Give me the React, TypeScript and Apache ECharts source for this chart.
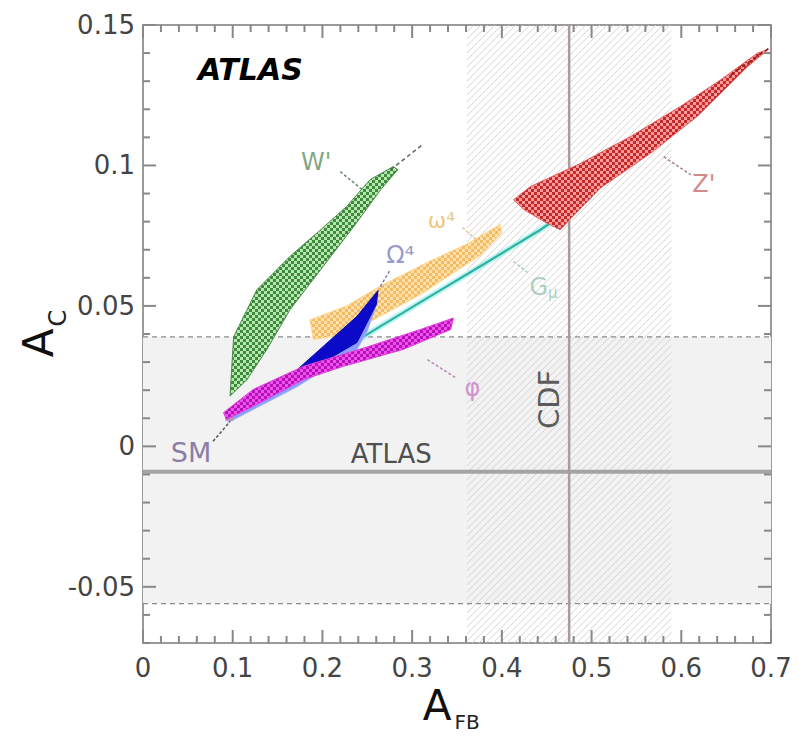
import React, { useEffect, useRef } from "react";
import * as echarts from "echarts";

// ---- axes ----
const X_MIN = 0;
const X_MAX = 0.7;
const X_STEP = 0.1;
const Y_MIN = -0.07;
const Y_MAX = 0.15;
const Y_MINOR_STEP = 0.01;
const X_MAJOR_TICKS = [0, 0.1, 0.2, 0.3, 0.4, 0.5, 0.6, 0.7];
const X_MINOR_TICKS = [
  0.02, 0.04, 0.06, 0.08, 0.12, 0.14, 0.16, 0.18, 0.22, 0.24, 0.26, 0.28, 0.32, 0.34, 0.36, 0.38,
  0.42, 0.44, 0.46, 0.48, 0.52, 0.54, 0.56, 0.58, 0.62, 0.64, 0.66, 0.68,
];
const Y_MAJOR_TICKS = [-0.05, 0, 0.05, 0.1, 0.15];
const Y_MINOR_TICKS = [
  -0.07, -0.06, -0.04, -0.03, -0.02, -0.01, 0.01, 0.02, 0.03, 0.04, 0.06, 0.07, 0.08, 0.09,
  0.11, 0.12, 0.13, 0.14,
];

// ---- measurements ----
const ATLAS_AC = -0.009;
const ATLAS_BAND = [-0.056, 0.039];
const CDF_AFB = 0.475;
const CDF_BAND = [0.361, 0.589];

// ---- model regions (A_FB, A_C) ----
const W_PRIME = [
  [0.097, 0.0179], [0.101, 0.039], [0.127, 0.0558], [0.164, 0.0677], [0.198, 0.0771],
  [0.227, 0.0854], [0.253, 0.0949], [0.279, 0.0996], [0.284, 0.0985], [0.265, 0.0914],
  [0.235, 0.0783], [0.198, 0.0629], [0.164, 0.0487], [0.138, 0.0345], [0.116, 0.0238],
];
const W_PRIME_TAIL = [[0.276, 0.0985], [0.312, 0.1075]];

const Z_PRIME = [
  [0.413, 0.0878], [0.432, 0.0925], [0.488, 0.1008], [0.5435, 0.1103], [0.599, 0.121],
  [0.644, 0.1305], [0.685, 0.14], [0.697, 0.1413], [0.674, 0.1352], [0.618, 0.1175],
  [0.566, 0.1044], [0.51, 0.092], [0.475, 0.0805], [0.465, 0.0771], [0.45, 0.0795],
  [0.4245, 0.0843],
];
const Z_PRIME_TAIL = [[0.655, 0.1322], [0.698, 0.1418]];

const OMEGA4_SMALL = [
  [0.186, 0.045], [0.227, 0.05], [0.264, 0.057], [0.32, 0.066], [0.361, 0.072],
  [0.398, 0.079], [0.4, 0.076], [0.376, 0.068], [0.309, 0.054], [0.257, 0.045],
  [0.227, 0.04], [0.19, 0.038],
];

const OMEGA4_CAP_LIGHT = [
  [0.095, 0.0098], [0.1715, 0.0258], [0.25, 0.047], [0.262, 0.052],
  [0.25, 0.041], [0.2385, 0.0345], [0.1715, 0.0212], [0.095, 0.0085],
];
const OMEGA4_CAP = [
  [0.15, 0.0215], [0.1715, 0.0272], [0.2385, 0.0463], [0.262, 0.0555],
  [0.26, 0.0505], [0.2385, 0.037], [0.1715, 0.0245], [0.15, 0.0202],
];

const PHI = [
  [0.0897, 0.012], [0.123, 0.0203], [0.179, 0.0285], [0.253, 0.0357], [0.309, 0.0416],
  [0.346, 0.0457], [0.343, 0.0416], [0.29, 0.0345], [0.2235, 0.0285], [0.179, 0.0238],
  [0.123, 0.0143], [0.093, 0.0096],
];

const G_MU = [
  [0.1, 0.011], [0.15, 0.02], [0.2, 0.03], [0.2645, 0.0427], [0.32, 0.0534],
  [0.376, 0.0641], [0.443, 0.0771], [0.47, 0.083], [0.5, 0.089],
];

const SM_POINT = [0.096, 0.0105];

// ---- annotations ----
const ARROWS = [
  { pts: [[0.2199, 0.0978], [0.2444, 0.0914]], color: "#6a8a6a" },
  { pts: [[0.5804, 0.1031], [0.6105, 0.0967]], color: "#b08080" },
  { pts: [[0.356, 0.0779], [0.3739, 0.0729]], color: "#dcc898" },
  { pts: [[0.2645, 0.0569], [0.2757, 0.0629]], color: "#7d7dbd" },
  { pts: [[0.413, 0.0658], [0.4286, 0.0619]], color: "#a8ccc0" },
  { pts: [[0.317, 0.0309], [0.3482, 0.0245]], color: "#b888b8" },
  { pts: [[0.0781, 0.0018], [0.0971, 0.0089]], color: "#555555" },
];

const LABELS = [
  { text: "W'", at: [0.1931, 0.1013], color: "#5f8f5f", size: 24, rotate: 0 },
  { text: "Z'", at: [0.625, 0.0935], color: "#c86a6a", size: 24, rotate: 0 },
  { text: "ω⁴", at: [0.3326, 0.0805], color: "#e8b85a", size: 22, rotate: 0 },
  { text: "Ω⁴", at: [0.2868, 0.0683], color: "#7d7dbd", size: 24, rotate: 0 },
  { text: "{g|G}{s|μ}", at: [0.4464, 0.0569], color: "#9cc4b4", size: 24, rotate: 0 },
  { text: "φ", at: [0.3672, 0.0206], color: "#c97ac9", size: 24, rotate: 0 },
  { text: "SM", at: [0.0536, -0.0021], color: "#6e5e92", size: 27, rotate: 0 },
  { text: "ATLAS", at: [0.2768, -0.0028], color: "#222222", size: 26, rotate: 0 },
  { text: "CDF", at: [0.453, 0.0167], color: "#333333", size: 29, rotate: 90 },
];

const FONT = "DejaVu Sans";

function makePattern(light: string, dark: string) {
  const c = document.createElement("canvas");
  c.width = 6;
  c.height = 6;
  const ctx = c.getContext("2d")!;
  ctx.fillStyle = light;
  ctx.fillRect(0, 0, 6, 6);
  ctx.fillStyle = dark;
  ctx.fillRect(0, 0, 3, 3);
  ctx.fillRect(3, 3, 3, 3);
  return { image: c.toDataURL(), repeat: "repeat", imageWidth: 6, imageHeight: 6 };
}

function polygonSeries(name: string, pts: number[][], fill: any, stroke: string, lineWidth: number, z: number) {
  return {
    type: "custom",
    name,
    coordinateSystem: "cartesian2d",
    xAxisIndex: 0,
    yAxisIndex: 0,
    silent: true,
    clip: true,
    z,
    data: pts,
    encode: { x: 0, y: 1 },
    renderItem: (params: any, api: any) => {
      if (params.dataIndex !== 0) return null;
      const points = pts.map((p) => api.coord(p));
      return {
        type: "polygon",
        shape: { points },
        style: { fill, stroke, lineWidth },
      };
    },
  };
}

function lineSeries(name: string, pts: number[][], color: string, width: number, type: any, z: number) {
  return {
    type: "line",
    name,
    xAxisIndex: 0,
    yAxisIndex: 0,
    data: pts,
    symbol: "none",
    silent: true,
    z,
    lineStyle: { color, width, type },
  };
}

const fmt = (v: number) => {
  const r = Math.round(v * 1000) / 1000;
  return r === 0 ? "0" : String(r);
};

export default function App() {
  const ref = useRef<HTMLDivElement>(null);

  useEffect(() => {
    if (!ref.current) return;
    const chart = echarts.init(ref.current, undefined, { renderer: "svg" });

    const axisLine = { show: true, onZero: false, lineStyle: { color: "#9a9a9a", width: 2 } };
    const TICK_COLOR = "#888888";

    const xBase = (position: string, showLabel: boolean) => ({
      type: "value",
      position,
      min: X_MIN,
      max: X_MAX,
      interval: X_STEP,
      axisLine,
      axisTick: { show: false },
      axisLabel: {
        show: showLabel,
        fontSize: 26,
        color: "#444",
        fontFamily: FONT,
        margin: 12,
        formatter: fmt,
      },
      splitLine: { show: false },
    });

    const yBase = (position: string, showLabel: boolean) => ({
      type: "value",
      position,
      min: Y_MIN,
      max: Y_MAX,
      interval: Y_MINOR_STEP,
      axisLine,
      axisTick: { show: false },
      axisLabel: {
        show: showLabel,
        fontSize: 26,
        color: "#444",
        fontFamily: FONT,
        margin: 8,
        formatter: fmt,
        customValues: Y_MAJOR_TICKS,
      },
      splitLine: { show: false },
    });

    // inward ticks on all four sides of the frame, placed through the grid's scales
    const ticks = {
      type: "custom",
      name: "ticks",
      coordinateSystem: "cartesian2d",
      xAxisIndex: 0,
      yAxisIndex: 0,
      silent: true,
      clip: false,
      z: 30,
      data: [[(X_MIN + X_MAX) / 2, (Y_MIN + Y_MAX) / 2]],
      renderItem: (params: any, api: any) => {
        const children: any[] = [];
        const seg = (x1: number, y1: number, x2: number, y2: number) =>
          children.push({
            type: "line",
            shape: { x1, y1, x2, y2 },
            style: { stroke: TICK_COLOR, lineWidth: 2 },
          });
        const addX = (vals: number[], len: number) =>
          vals.forEach((v) => {
            const b = api.coord([v, Y_MIN]);
            const t = api.coord([v, Y_MAX]);
            seg(b[0], b[1], b[0], b[1] - len);
            seg(t[0], t[1], t[0], t[1] + len);
          });
        const addY = (vals: number[], len: number) =>
          vals.forEach((v) => {
            const l = api.coord([X_MIN, v]);
            const r = api.coord([X_MAX, v]);
            seg(l[0], l[1], l[0] + len, l[1]);
            seg(r[0], r[1], r[0] - len, r[1]);
          });
        addX(X_MAJOR_TICKS, 13);
        addX(X_MINOR_TICKS, 7);
        addY(Y_MAJOR_TICKS, 13);
        addY(Y_MINOR_TICKS, 7);
        return { type: "group", children };
      },
    };

    const hatch = {
      type: "custom",
      name: "CDF band",
      coordinateSystem: "cartesian2d",
      xAxisIndex: 0,
      yAxisIndex: 0,
      silent: true,
      z: 2,
      data: [[CDF_BAND[0], CDF_BAND[1]]],
      renderItem: (params: any, api: any) => {
        const p0 = api.coord([api.value(0), Y_MAX]);
        const p1 = api.coord([api.value(1), Y_MIN]);
        const L = p0[0], T = p0[1], R = p1[0], B = p1[1];
        const children: any[] = [];
        for (let c = L + T; c <= R + B; c += 7) {
          const sx = Math.max(L, c - B);
          const ex = Math.min(R, c - T);
          if (sx < ex) {
            children.push({
              type: "line",
              shape: { x1: sx, y1: c - sx, x2: ex, y2: c - ex },
              style: { stroke: "#d8d2d2", lineWidth: 1 },
            });
          }
        }
        return { type: "group", children };
      },
    };

    const grayBand = {
      type: "custom",
      name: "ATLAS band",
      coordinateSystem: "cartesian2d",
      xAxisIndex: 0,
      yAxisIndex: 0,
      silent: true,
      z: 1,
      data: [[ATLAS_BAND[0], ATLAS_BAND[1]]],
      renderItem: (params: any, api: any) => {
        const p0 = api.coord([X_MIN, api.value(1)]);
        const p1 = api.coord([X_MAX, api.value(0)]);
        return {
          type: "rect",
          shape: { x: p0[0], y: p0[1], width: p1[0] - p0[0], height: p1[1] - p0[1] },
          style: { fill: "#f2f2f2" },
        };
      },
    };

    const green = makePattern("#b4e8ac", "#3f8a3f");
    const red = makePattern("#ff9a9a", "#c42a2a");
    const orange = makePattern("#ffe0a8", "#f2bc66");
    const magenta = makePattern("#f050f0", "#b414b4");

    const series: any[] = [
      grayBand,
      hatch,
      lineSeries("ATLAS", [[X_MIN, ATLAS_AC], [X_MAX, ATLAS_AC]], "#a4a4a4", 4, "solid", 3),
      lineSeries("ATLAS hi", [[X_MIN, ATLAS_BAND[1]], [X_MAX, ATLAS_BAND[1]]], "#8a8a8a", 1.3, [5, 4], 3),
      lineSeries("ATLAS lo", [[X_MIN, ATLAS_BAND[0]], [X_MAX, ATLAS_BAND[0]]], "#8a8a8a", 1.3, [5, 4], 3),
      lineSeries("CDF", [[CDF_AFB, Y_MIN], [CDF_AFB, Y_MAX]], "#a89c9c", 2.5, "solid", 3),
      polygonSeries("W'", W_PRIME, green, "#4a8a4a", 1, 5),
      lineSeries("W' tail", W_PRIME_TAIL, "#5a6a5a", 1.5, [4, 3], 5),
      polygonSeries("omega4", OMEGA4_SMALL, orange, "#ffd890", 1, 6),
      lineSeries("G glow", G_MU, "rgba(150,235,235,0.6)", 6, "solid", 7),
      lineSeries("G", G_MU, "#2bb3a0", 2.2, "solid", 7),
      polygonSeries("Omega4 light", OMEGA4_CAP_LIGHT, "#8c9cff", "#a0b0ff", 1, 8),
      polygonSeries("Omega4", OMEGA4_CAP, "#0a0ac8", "#0a0ab0", 1, 9),
      polygonSeries("phi", PHI, magenta, "#e040e0", 1, 10),
      polygonSeries("Z'", Z_PRIME, red, "#e06060", 1, 11),
      lineSeries("Z' tail", Z_PRIME_TAIL, "#902020", 1.5, [4, 3], 11),
      ...ARROWS.map((a, i) => lineSeries("arrow" + i, a.pts, a.color, 1.5, [3, 2], 12)),
      ticks,
      {
        type: "scatter",
        name: "SM",
        xAxisIndex: 0,
        yAxisIndex: 0,
        data: [SM_POINT],
        symbol: "rect",
        symbolSize: 8,
        itemStyle: { color: "#c090a0" },
        silent: true,
        z: 9,
      },
      {
        type: "scatter",
        name: "labels",
        xAxisIndex: 0,
        yAxisIndex: 0,
        symbolSize: 1,
        itemStyle: { color: "transparent" },
        silent: true,
        z: 20,
        data: LABELS.map((l) => ({
          value: l.at,
          label: {
            show: true,
            position: "inside",
            formatter: l.text,
            color: l.color,
            fontSize: l.size,
            fontFamily: FONT,
            rotate: l.rotate,
            rich: {
              g: { fontSize: l.size, color: l.color, fontFamily: FONT },
              s: { fontSize: 15, color: l.color, fontFamily: FONT, padding: [12, 0, 0, 0] },
            },
          },
        })),
      },
    ];

    chart.setOption({
      animation: false,
      grid: { left: 143, right: 34, top: 25, bottom: 94, containLabel: false },
      xAxis: [xBase("bottom", true), xBase("top", false)],
      yAxis: [yBase("left", true), yBase("right", false)],
      series,
      graphic: [
        {
          type: "text",
          left: 198,
          top: 54,
          style: { text: "ATLAS", font: `italic bold 30px "${FONT}"`, fill: "#000" },
        },
        {
          type: "text",
          x: 437,
          y: 705,
          style: { text: "A", font: `42px "${FONT}"`, fill: "#111", align: "center", verticalAlign: "middle" },
        },
        {
          type: "text",
          x: 467,
          y: 722,
          style: { text: "FB", font: `20px "${FONT}"`, fill: "#222", align: "center", verticalAlign: "middle" },
        },
        {
          type: "text",
          x: 38,
          y: 343,
          rotation: Math.PI / 2,
          style: { text: "A", font: `42px "${FONT}"`, fill: "#111", align: "center", verticalAlign: "middle" },
        },
        {
          type: "text",
          x: 58,
          y: 318,
          rotation: Math.PI / 2,
          style: { text: "C", font: `24px "${FONT}"`, fill: "#222", align: "center", verticalAlign: "middle" },
        },
      ],
    });

    return () => chart.dispose();
  }, []);

  return (
    <div
      ref={ref}
      style={{ position: "fixed", left: 0, top: 0, width: 805, height: 737, background: "#fff" }}
    />
  );
}
